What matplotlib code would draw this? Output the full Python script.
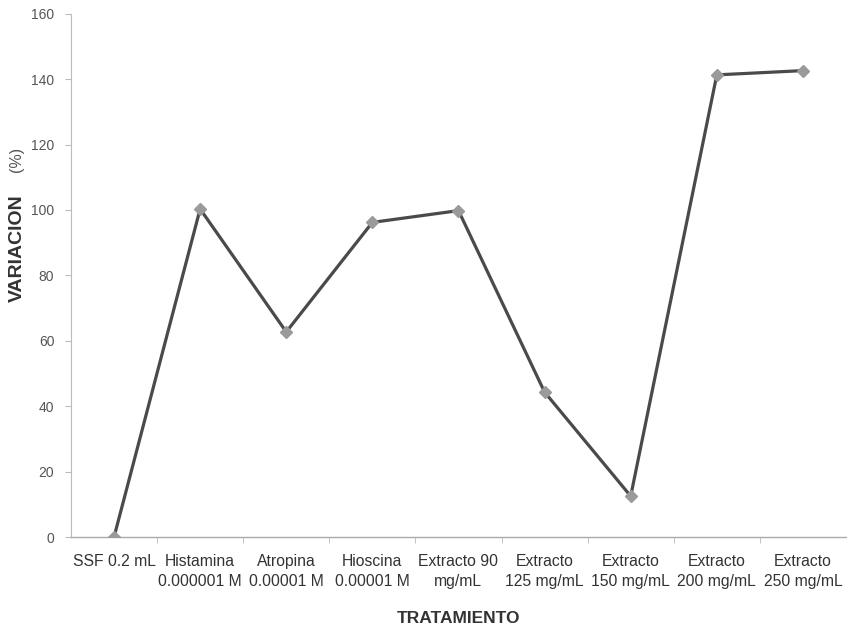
import numpy as np
import matplotlib.pyplot as plt

plt.rcParams['font.family'] = ['Liberation Sans', 'DejaVu Sans']

tratamientos = ["SSF 0.2 mL", "Histamina\n0.000001 M", "Atropina\n0.00001 M",
                "Hioscina\n0.00001 M", "Extracto 90\nmg/mL", "Extracto\n125 mg/mL",
                "Extracto\n150 mg/mL", "Extracto\n200 mg/mL", "Extracto\n250 mg/mL"]
variacion = [0, 100.3, 62.7, 96.2, 99.8, 44.3, 12.5, 141.3, 142.6]

fig = plt.figure(figsize=(8.47, 6.32), dpi=100)
ax = fig.add_axes([0.0838, 0.1503, 0.915, 0.828])

x = np.arange(len(tratamientos))
ax.plot(x, variacion, color="#4a4a4a", lw=2.3, marker="D", markersize=6.5,
        markerfacecolor="#9a9a9a", markeredgecolor="#9a9a9a", zorder=3)

ax.set_xlim(-0.5, len(tratamientos) - 0.5)
ax.set_ylim(0, 160)
ax.set_yticks(np.arange(0, 161, 20))
ax.set_xticks(x)
ax.set_xticklabels(tratamientos, fontsize=11.3, color="#333333", va="top", linespacing=1.45)
ax.set_xticks(np.arange(0.5, len(tratamientos) - 0.5, 1), minor=True)
ax.tick_params(axis="x", which="major", length=0, pad=12)
ax.tick_params(axis="x", which="minor", length=4, color="#bbbbbb")
ax.tick_params(axis="y", length=4, color="#bbbbbb", labelsize=10, labelcolor="#555555", pad=8)

for s in ["top", "right"]:
    ax.spines[s].set_visible(False)
ax.spines["left"].set_color("#bbbbbb")
ax.spines["bottom"].set_color("#aaaaaa")
ax.spines["left"].set_linewidth(0.8)
ax.spines["bottom"].set_linewidth(1.0)

fig.text(0.541, 0.022, "TRATAMIENTO", fontsize=12.5, fontweight="bold", color="#333333",
         ha="center", va="center")
fig.text(0.020, 0.607, "VARIACION", fontsize=14, fontweight="bold", color="#333333",
         rotation=90, ha="center", va="center")
fig.text(0.020, 0.747, "(%)", fontsize=11.5, color="#555555",
         rotation=90, ha="center", va="center")

fig.savefig("out.png", dpi=100)
